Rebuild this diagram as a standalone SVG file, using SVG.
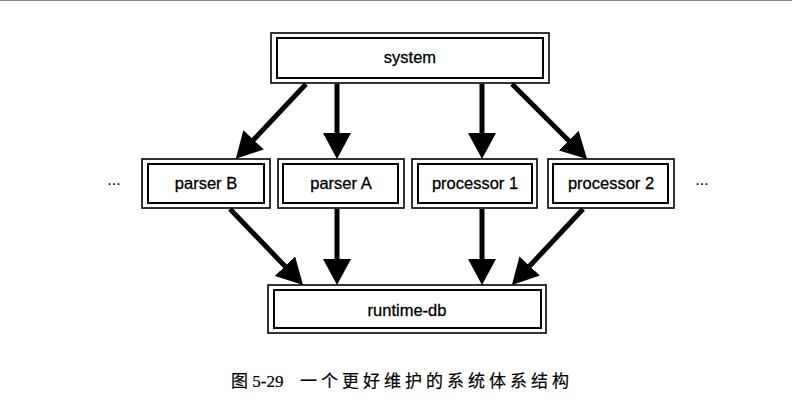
<svg xmlns="http://www.w3.org/2000/svg" width="800" height="410" viewBox="0 0 800 410">
<style>
.outer{fill:none;stroke:#000;stroke-width:1.6}
.inner{fill:#fff;stroke:#000;stroke-width:2}
.lbl{font-family:"Liberation Sans",Arial,sans-serif;font-size:16.5px;fill:#000;text-anchor:middle;stroke:#000;stroke-width:0.3}
.dots{font-family:"Liberation Sans",Arial,sans-serif;font-size:16px;fill:#000;text-anchor:middle}
.edge{stroke:#000;stroke-width:5;fill:none;marker-end:url(#ah)}
.cap{font-family:"Liberation Serif","Noto Sans CJK SC",serif;font-size:17px;fill:#000;stroke:#000;stroke-width:0.2}
</style>
<defs>
<marker id="ah" markerUnits="userSpaceOnUse" viewBox="0 0 26 28" markerWidth="26" markerHeight="28" refX="14" refY="14" orient="auto">
<path d="M0,0 L26,14 L0,28 Z" fill="#000"/>
</marker>
</defs>
<rect width="800" height="410" fill="#fff"/>
<line x1="0" y1="0.5" x2="792" y2="0.5" stroke="#888" stroke-width="1"/>
<g id="system">
<rect class="outer" x="271" y="33" width="278" height="50"/>
<rect class="inner" x="277" y="38" width="266" height="40"/>
<text class="lbl" x="410" y="63">system</text>
</g>
<g id="parserB">
<rect class="outer" x="142" y="159" width="128" height="49"/>
<rect class="inner" x="148" y="164" width="116" height="39"/>
<text class="lbl" x="206" y="189">parser B</text>
</g>
<g id="parserA">
<rect class="outer" x="278" y="159" width="126" height="49"/>
<rect class="inner" x="283" y="164" width="115" height="39"/>
<text class="lbl" x="341" y="189">parser A</text>
</g>
<g id="processor1">
<rect class="outer" x="412" y="159" width="125" height="49"/>
<rect class="inner" x="418" y="164" width="114" height="39"/>
<text class="lbl" x="475" y="189">processor 1</text>
</g>
<g id="processor2">
<rect class="outer" x="548" y="159" width="126" height="49"/>
<rect class="inner" x="553" y="164" width="115" height="39"/>
<text class="lbl" x="611" y="189">processor 2</text>
</g>
<g id="runtimedb">
<rect class="outer" x="268" y="285" width="278" height="48"/>
<rect class="inner" x="274" y="290" width="267" height="38"/>
<text class="lbl" x="407" y="316">runtime-db</text>
</g>
<g id="more-left"><text class="dots" x="114" y="185">...</text></g>
<g id="more-right"><text class="dots" x="702" y="185">...</text></g>
<g id="connectors">
<line class="edge" x1="306" y1="84" x2="244" y2="150"/>
<line class="edge" x1="337" y1="84" x2="337" y2="147"/>
<line class="edge" x1="482" y1="84" x2="482" y2="147"/>
<line class="edge" x1="512" y1="84" x2="578.6" y2="150.5"/>
<line class="edge" x1="230" y1="209" x2="294.7" y2="276.3"/>
<line class="edge" x1="337" y1="209" x2="337" y2="273"/>
<line class="edge" x1="482" y1="209" x2="482" y2="273"/>
<line class="edge" x1="583" y1="209" x2="520.1" y2="276.2"/>
</g>
<text class="cap" x="231" y="387">图 5-29<tspan x="300" letter-spacing="4">一个更好维护的系统体系结构</tspan></text>
</svg>
